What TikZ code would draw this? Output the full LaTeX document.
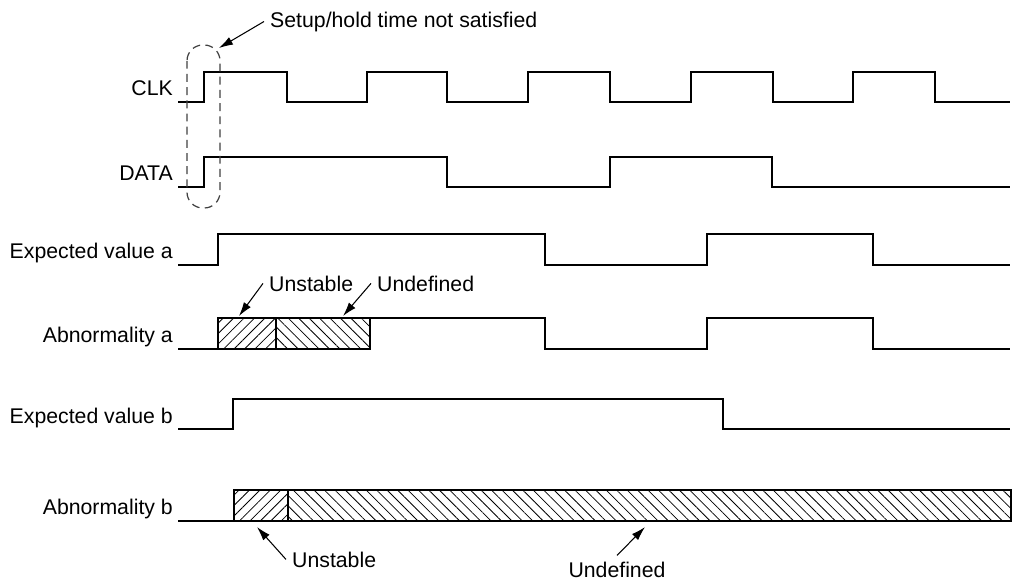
\documentclass[tikz,border=0pt]{standalone}
\usepackage{fontspec}
\setsansfont{Liberation Sans}
\usepackage{tikz}
\usetikzlibrary{arrows.meta}
\usetikzlibrary{patterns.meta}
\tikzstyle{every node}=[font=\sffamily\fontsize{12.1pt}{14pt}\selectfont]
\tikzstyle{wave}=[line width=1.3pt,line join=miter]
\newcommand{\hatchbox}[3]{\draw[wave,pattern={Lines[angle=#3,distance=4.2pt,line width=0.45pt]}] #1 rectangle #2;}

\begin{document}
\begin{tikzpicture}[x=0.02cm,y=-0.02cm]
		\tikzstyle{arrow} = [line width=0.6pt,-{Latex[length=2.8mm, width=1.7mm]}]
		\useasboundingbox (0,0) rectangle (1013,583);
		
		% signal names
		\node[anchor=base east] (clk) at (179,95) {CLK};
		\node[anchor=base east] (data) at (179,180) {DATA};
		\node[anchor=base east] (expa) at (179,258) {Expected value a};
		\node[anchor=base east] (abna) at (179,342) {Abnormality a};
		\node[anchor=base east] (expb) at (179,423) {Expected value b};
		\node[anchor=base east] (abnb) at (179,514) {Abnormality b};
		
		% waveforms
		\draw[wave] (178,102) -| (204,72) -| (287,102) -| (367,72) -| (447,102) -| (528,72) -| (610,102)
			-| (691,72) -| (773,102) -| (853,72) -| (935,102) -- (1010,102);
		\draw[wave] (178,187) -| (204,157) -| (447,187) -| (610,157) -| (772,187) -- (1010,187);
		\draw[wave] (178,265) -| (218,234) -| (545,265) -| (707,234) -| (873,265) -- (1010,265);
		\draw[wave] (178,349) -- (218,349);
		\hatchbox{(218,318)}{(276,349)}{45}
		\hatchbox{(276,318)}{(370,349)}{-45}
		\draw[wave] (370,318) -| (545,349) -| (707,318) -| (873,349) -- (1010,349);
		\draw[wave] (178,429) -| (233,399) -| (723,429) -- (1010,429);
		\draw[wave] (178,521) -- (234,521);
		\hatchbox{(234,490)}{(288,521)}{45}
		\hatchbox{(288,490)}{(1011,521)}{-45}
		
		% setup/hold window
		\draw[dashed,dash pattern=on 4.5pt off 3pt,line width=0.7pt,black!75,rounded corners=9pt]
			(187,45) rectangle (220,208);
		
		% callouts
		\node[anchor=base west] (setup) at (264,27) {Setup/hold time not satisfied};
		\node[anchor=base west] (unsta) at (263,291) {Unstable};
		\node[anchor=base west] (undefa) at (371,291) {Undefined};
		\node[anchor=base west] (unstb) at (286,567) {Unstable};
		\node[anchor=base] (undefb) at (617,577) {Undefined};
		\coordinate (setuptip) at (219,48);
		\coordinate (unstatip) at (239,316);
		\coordinate (undefatip) at (343,316);
		\coordinate (unstbtip) at (257,527);
		\coordinate (undefbtip) at (645,527);
		\draw[arrow] (setup.west) -- (setuptip);
		\draw[arrow] (unsta.west) -- (unstatip);
		\draw[arrow] (undefa.west) -- (undefatip);
		\draw[arrow] (unstb.west) -- (unstbtip);
		\draw[arrow] (undefb.north) -- (undefbtip);
	\end{tikzpicture}
\end{document}
